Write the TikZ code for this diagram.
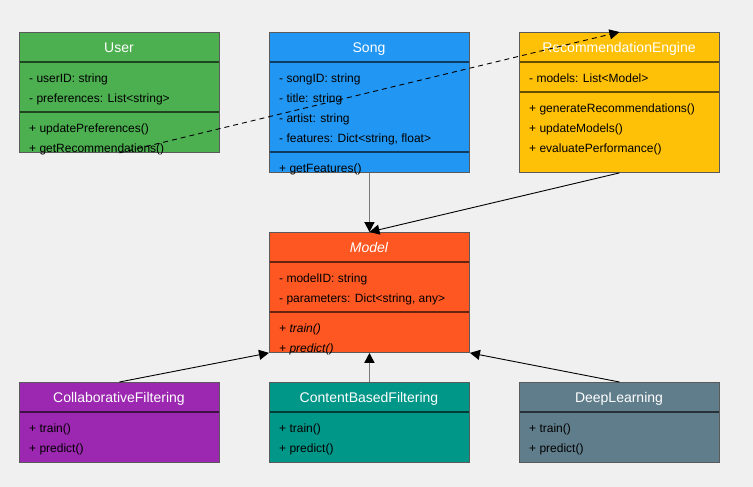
\documentclass[tikz,border=0pt]{standalone}
\usepackage{fontspec}
\setmainfont{Liberation Sans}
\usetikzlibrary{arrows.meta}
\definecolor{bgc}{HTML}{F0F0F0}
\definecolor{userc}{HTML}{4CAF50}
\definecolor{songc}{HTML}{2196F3}
\definecolor{enginec}{HTML}{FFC107}
\definecolor{modelc}{HTML}{FF5722}
\definecolor{collabc}{HTML}{9C27B0}
\definecolor{contentc}{HTML}{009688}
\definecolor{deepc}{HTML}{607D8B}
\definecolor{bordc}{HTML}{5A5A5A}
\definecolor{greyline}{HTML}{7A7A7A}
\tikzset{
  classbox/.style={draw=bordc, line width=0.9pt, minimum width=200pt, anchor=north west, inner sep=0pt},
  divline/.style={line width=1.8pt, draw=#1!40!black},
  hdr/.style={anchor=base, text=white, font=\fontsize{14}{16}\selectfont, inner sep=0pt},
  row/.style={anchor=base west, text=black, font=\fontsize{12}{14}\selectfont, inner sep=0pt},
  conn/.style={-{Triangle[length=10pt,width=10pt]}, line width=0.9pt, draw=black},
  greyconn/.style={-{Triangle[length=10pt,width=10pt,color=black]}, line width=1.6pt, draw=greyline},
}
\begin{document}
\begin{tikzpicture}[x=1pt,y=-1pt]
\fill[bgc] (0,0) rectangle (753,487);
\useasboundingbox (0,0) rectangle (753,487);

% User
\node[classbox, fill=userc, minimum height=120pt] (user) at (19,32) {};
\draw[divline=userc] (19.5,62) -- (218.5,62);
\draw[divline=userc] (19.5,112) -- (218.5,112);
\node[hdr] (userh) at (119,52.3) {User};
\node[row] (u1) at (29,82.5) {- userID: string};
\node[row] (u2) at (29,102.5) {- preferences: List<string>};
\node[row] (u3) at (29,132.5) {+ updatePreferences()};
\node[row] (u4) at (29,152.5) {+ getRecommendations()};

% Song
\node[classbox, fill=songc, minimum height=140pt] (song) at (269,32) {};
\draw[divline=songc] (269.5,62) -- (468.5,62);
\draw[divline=songc] (269.5,152) -- (468.5,152);
\node[hdr] (songh) at (369,52.3) {Song};
\node[row] (s1) at (279,82.5) {- songID: string};
\node[row] (s2) at (279,102.5) {- title: string};
\node[row] (s3) at (279,122.5) {- artist: string};
\node[row] (s4) at (279,142.5) {- features: Dict<string, float>};
\node[row] (s5) at (279,172.5) {+ getFeatures()};

% RecommendationEngine
\node[classbox, fill=enginec, minimum height=140pt] (engine) at (519,32) {};
\draw[divline=enginec] (519.5,62) -- (718.5,62);
\draw[divline=enginec] (519.5,92) -- (718.5,92);
\node[hdr] (engineh) at (619,52.3) {RecommendationEngine};
\node[row] (e1) at (529,82.5) {- models: List<Model>};
\node[row] (e2) at (529,112.5) {+ generateRecommendations()};
\node[row] (e3) at (529,132.5) {+ updateModels()};
\node[row] (e4) at (529,152.5) {+ evaluatePerformance()};

% Model
\node[classbox, fill=modelc, minimum height=120pt] (model) at (269,232) {};
\draw[divline=modelc] (269.5,262) -- (468.5,262);
\draw[divline=modelc] (269.5,312) -- (468.5,312);
\node[hdr, font=\fontsize{14}{16}\selectfont\itshape] (modelh) at (369,252.3) {Model};
\node[row] (m1) at (279,282.5) {- modelID: string};
\node[row] (m2) at (279,302.5) {- parameters: Dict<string, any>};
\node[row, font=\fontsize{12}{14}\selectfont\itshape] (m3) at (279,332.5) {+ train()};
\node[row, font=\fontsize{12}{14}\selectfont\itshape] (m4) at (279,352.5) {+ predict()};

% CollaborativeFiltering
\node[classbox, fill=collabc, minimum height=80pt] (collab) at (19,382) {};
\draw[divline=collabc] (19.5,412) -- (218.5,412);
\node[hdr] (collabh) at (119,402.3) {CollaborativeFiltering};
\node[row] (c1) at (29,432.5) {+ train()};
\node[row] (c2) at (29,452.5) {+ predict()};

% ContentBasedFiltering
\node[classbox, fill=contentc, minimum height=80pt] (content) at (269,382) {};
\draw[divline=contentc] (269.5,412) -- (468.5,412);
\node[hdr] (contenth) at (369,402.3) {ContentBasedFiltering};
\node[row] (t1) at (279,432.5) {+ train()};
\node[row] (t2) at (279,452.5) {+ predict()};

% DeepLearning
\node[classbox, fill=deepc, minimum height=80pt] (deep) at (519,382) {};
\draw[divline=deepc] (519.5,412) -- (718.5,412);
\node[hdr] (deeph) at (619,402.3) {DeepLearning};
\node[row] (d1) at (529,432.5) {+ train()};
\node[row] (d2) at (529,452.5) {+ predict()};

% connectors
\draw[greyconn] (song.south) -- (model.north);
\draw[conn] (engine.south) -- (model.north);
\draw[conn] (collab.north) -- (model.south west);
\draw[greyconn] (content.north) -- (model.south);
\draw[conn] (deep.north) -- (model.south east);
\draw[conn, dash pattern=on 5pt off 4pt] (user.south) -- (engine.north);
\end{tikzpicture}
\end{document}
